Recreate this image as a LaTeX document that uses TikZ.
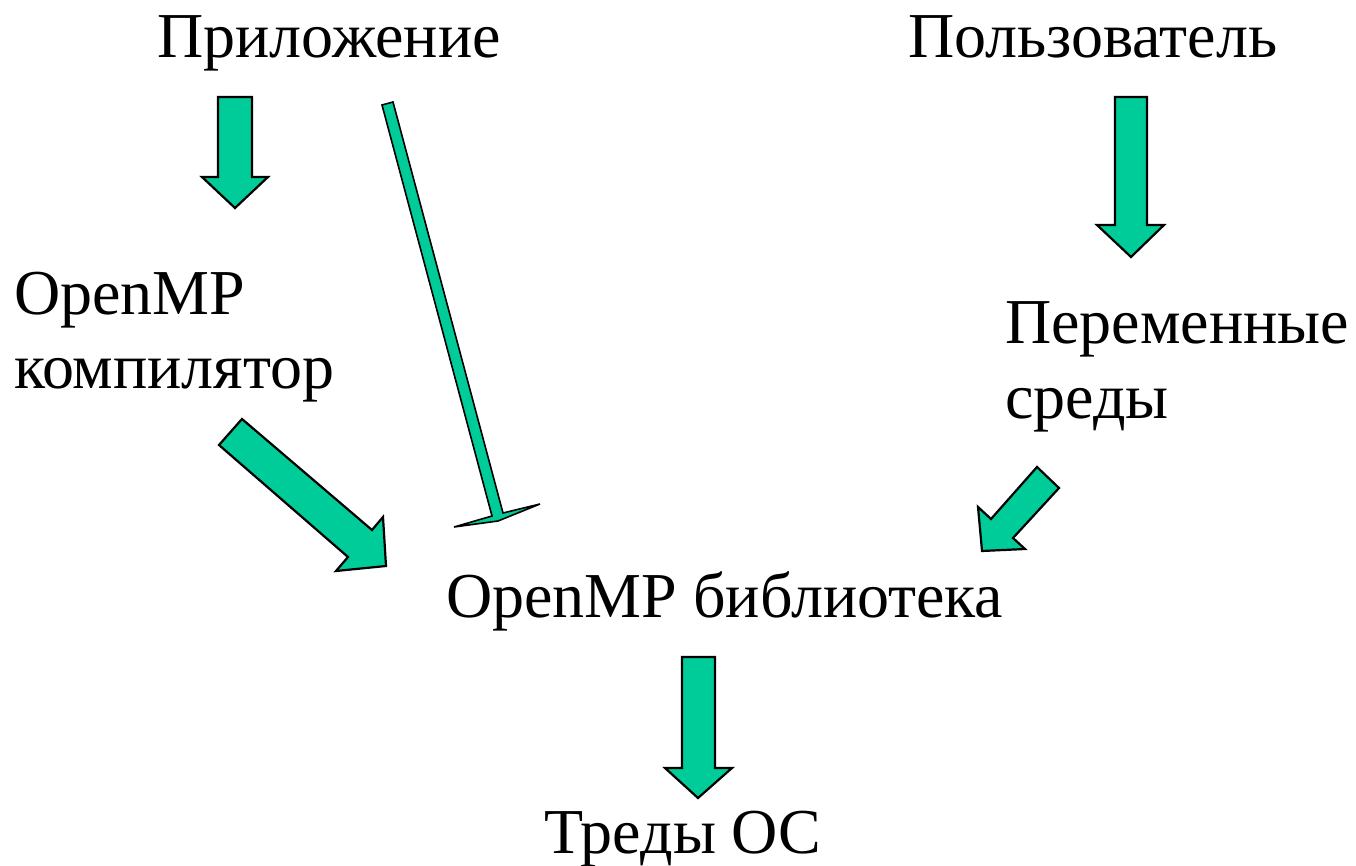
\documentclass[tikz,border=0pt]{standalone}
\usepackage{fontspec}
\setmainfont{Liberation Serif}
\definecolor{arrowgreen}{HTML}{00CC99}
\begin{document}
\begin{tikzpicture}[x=1pt,y=-1pt,
  lbl/.style={anchor=base west,inner sep=0pt,font=\fontsize{64}{73}\selectfont},
  blockarrow/.style={fill=arrowgreen,draw=black,line width=2.2pt,line join=miter}]
\useasboundingbox (0,0) rectangle (1356,866);
% texts
\node[lbl] (app) at (157,58) {Приложение};
\node[lbl] (user) at (908,58) {Пользователь};
\node[lbl] (omp1) at (14,315) {OpenMP};
\node[lbl] (comp) at (14,388) {компилятор};
\node[lbl] (env1) at (1005,343) {Переменные};
\node[lbl] (env2) at (1005,418) {среды};
\node[lbl] (lib) at (446,617) {OpenMP библиотека};
\node[lbl] (thr) at (544,853) {Треды ОС};
% block arrows
\draw[blockarrow] (218,97) -- (252,97) -- (252,177) -- (268,177) -- (235,208) -- (202,177) -- (218,177) -- cycle;
\draw[blockarrow] (1115,97) -- (1147,97) -- (1147,225) -- (1164,225) -- (1131,257) -- (1097,225) -- (1115,225) -- cycle;
\draw[blockarrow] (682,657) -- (715,657) -- (715,768) -- (732,768) -- (698,798) -- (665,768) -- (682,768) -- cycle;
\draw[blockarrow,line width=1.6pt] (382,105) -- (393,102) -- (503,513) -- (540,504) -- (498,521) -- (454,527) -- (492,516) -- cycle;
\draw[blockarrow] (219,445) -- (242,419) -- (372,530) -- (383,517) -- (386,566) -- (336,571) -- (348,557) -- cycle;
\draw[blockarrow] (1037,467) -- (1059,488) -- (1013,538) -- (1025,549) -- (982,551) -- (978,507) -- (991,519) -- cycle;
\end{tikzpicture}
\end{document}
